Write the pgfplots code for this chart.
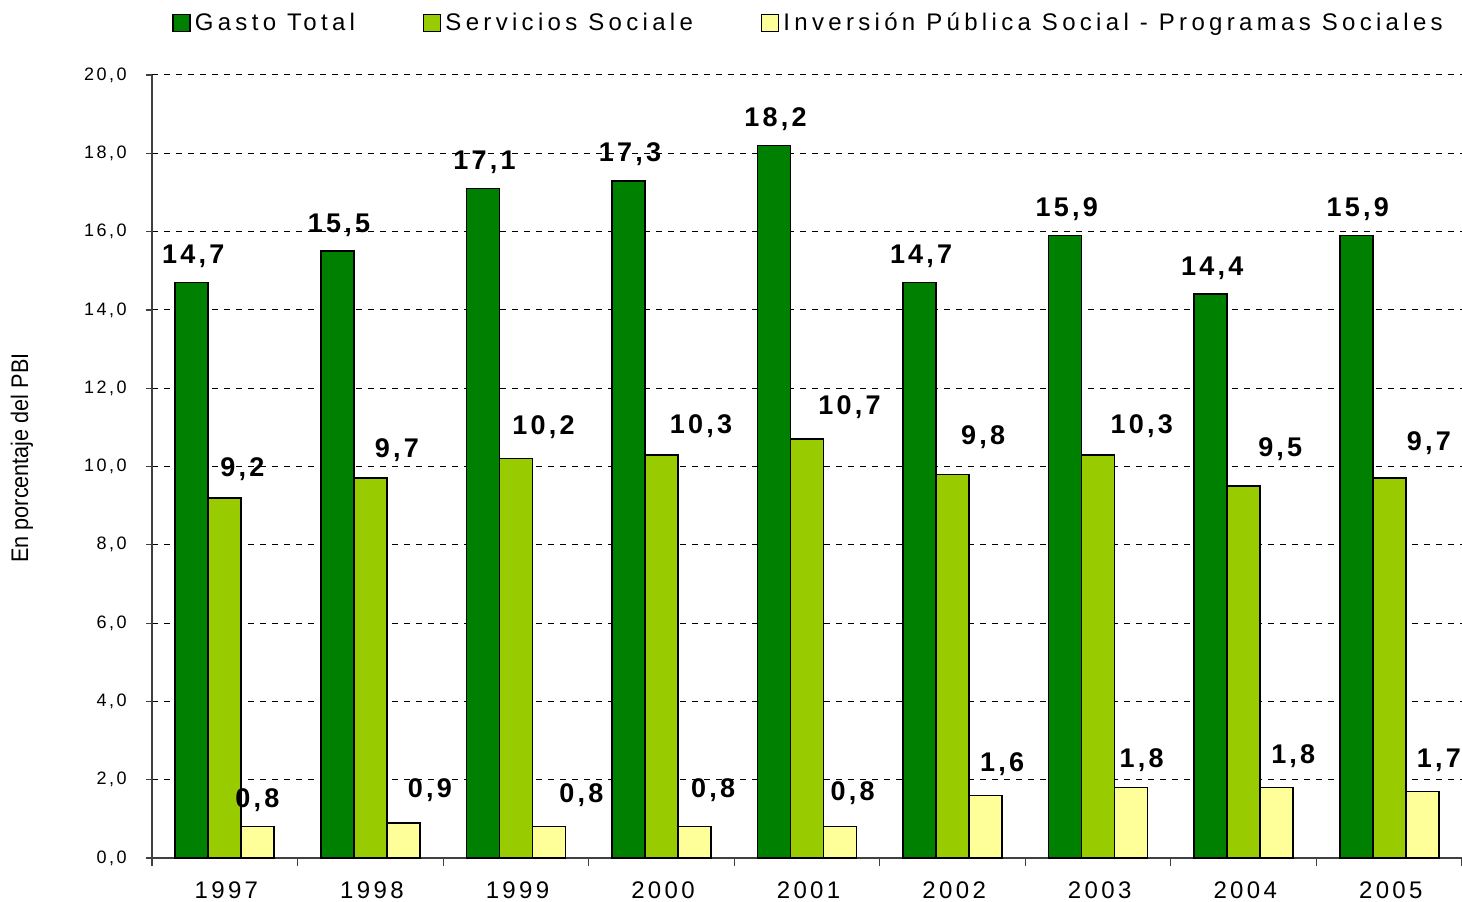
\documentclass[border=0pt]{standalone}
\usepackage{pgfplots}
\usepackage{pgfplotstable}
\pgfplotsset{compat=1.18}
\usepackage{fontspec}
\setmainfont{Liberation Sans}
\newfontfamily\tickfont[LetterSpace=14]{Liberation Sans}
\newfontfamily\legfont[LetterSpace=18]{Liberation Sans}
\newfontfamily\lblfont[LetterSpace=12]{Liberation Sans}
\newfontfamily\ylabfont[FakeStretch=0.9]{Liberation Sans}
\definecolor{cGasto}{HTML}{008000}
\definecolor{cServ}{HTML}{99CC00}
\definecolor{cInv}{HTML}{FFFF99}

\pgfplotstableread{
x y dx dy
0 14.7 0 9.5
1 15.5 0 9.5
2 17.1 0 9.5
3 17.3 0 9.5
4 18.2 0 9.5
5 14.7 0 9.5
6 15.9 0 9.5
7 14.4 0 9.5
8 15.9 0 9.5
}\gasto
\pgfplotstableread{
x y dx dy
0 9.2 8 10.75
1 9.7 12.5 10.25
2 10.2 13 12.25
3 10.3 19 10.75
4 10.7 20.5 12.25
5 9.8 14.5 14.75
6 10.3 21 10.75
7 9.5 17.5 14.75
8 9.7 19 13.75
}\serv
\pgfplotstableread{
x y dx dy
0 0.8 -1 9.75
1 0.9 12.5 12.75
2 0.8 15.5 12.25
3 0.8 8.5 14.75
4 0.8 5.5 13.25
5 1.6 7.5 11.75
6 1.8 4.5 10.25
7 1.8 7.5 12.25
8 1.7 7.5 11.75
}\inv

\begin{document}
\begin{tikzpicture}
\path[use as bounding box] (0,0) rectangle (731pt,450.5pt);
\begin{axis}[
  at={(76pt,21.5pt)}, anchor=south west,
  scale only axis, width=655pt, height=391.5pt,
  ybar=0pt, bar width=16.5pt,
  xmin=-0.5, xmax=8.5, ymin=0, ymax=20,
  axis x line*=bottom, axis y line*=left,
  axis line style={-, black!75, line width=0.6pt},
  tick align=outside,
  xtick={0,...,8},
  xticklabels={1997,1998,1999,2000,2001,2002,2003,2004,2005},
  major x tick style={draw=none},
  minor xtick={-0.5,0.5,...,8.5},
  minor x tick style={draw=black!75, line width=0.6pt},
  minor tick length=4pt,
  ytick={0,2,...,20},
  major tick length=3pt,
  ytick style={draw=black!75, line width=0.6pt},
  ymajorgrids,
  y grid style={black, line width=0.5pt, dash pattern=on 3pt off 3pt},
  yticklabel style={font=\tickfont\fontsize{9}{10}\selectfont, anchor=east, inner sep=0pt, xshift=-9.5pt,
    /pgf/number format/.cd, fixed, fixed zerofill, precision=1, use comma, assume math mode=true},
  xticklabel style={font=\tickfont\fontsize{12}{14}\selectfont, anchor=north, inner sep=0pt, yshift=-8.5pt, xshift=0.8pt},
  nodes near coords={\pgfmathprintnumber[fixed,fixed zerofill,precision=1,use comma,assume math mode=true]{\pgfplotspointmeta}},
  visualization depends on={\thisrow{dx} \as \dx},
  visualization depends on={\thisrow{dy} \as \dy},
  every node near coord/.append style={font=\lblfont\bfseries\fontsize{13.5}{15}\selectfont, anchor=base, inner sep=0pt, xshift={\dx*1pt+0.8pt}, yshift={\dy*1pt}},
  legend columns=3,
  legend style={draw=none, at={(0.502,1)}, anchor=center, yshift=26pt,
    font=\legfont\fontsize{12}{14}\selectfont,
    /tikz/every even column/.append style={column sep=32pt}},
  legend image code/.code={\draw[#1, draw=black, line width=0.7pt] (0pt,-4.25pt) rectangle (8.5pt,4.25pt);},
]
\addplot[fill=cGasto, draw=black, line width=0.8pt] table[x=x,y=y] {\gasto};
\addplot[fill=cServ, draw=black, line width=0.8pt] table[x=x,y=y] {\serv};
\addplot[fill=cInv, draw=black, line width=0.8pt] table[x=x,y=y] {\inv};
\legend{Gasto Total, Servicios Sociale, Inversión Pública Social - Programas Sociales}
\end{axis}
\node[rotate=90, font=\ylabfont\fontsize{12}{14}\selectfont] at (11pt,221.5pt) {En porcentaje del PBI};
\end{tikzpicture}
\end{document}
